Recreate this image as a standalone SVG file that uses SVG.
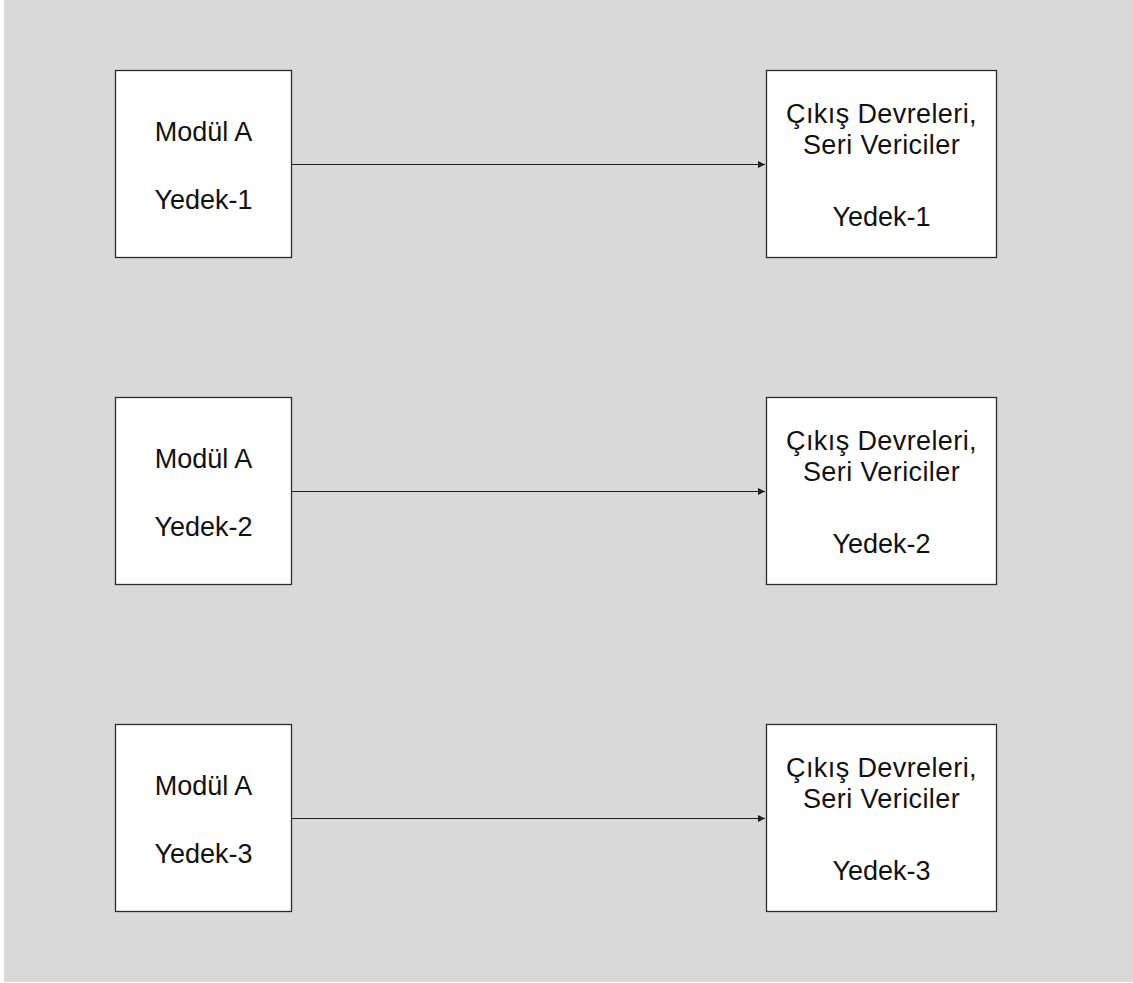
<svg xmlns="http://www.w3.org/2000/svg" width="1133" height="983" viewBox="0 0 1133 983">
  <defs>
    <style>
      .box { fill: #ffffff; stroke: #2b2b2b; stroke-width: 1.3; }
      .lbl { font-family: "Liberation Sans", Arial, sans-serif; font-size: 27px; fill: #111111; text-anchor: middle; }
      .wide { letter-spacing: 0.4px; }
      .link { stroke: #1f1f1f; stroke-width: 1.2; fill: none; marker-end: url(#head); }
    </style>
    <marker id="head" viewBox="0 0 10 10" refX="10" refY="5" markerWidth="8" markerHeight="7" markerUnits="userSpaceOnUse" orient="auto">
      <path d="M0,0 L10,5 L0,10 z" fill="#1f1f1f"/>
    </marker>
  </defs>

  <rect x="0" y="0" width="1133" height="983" fill="#ffffff"/>
  <rect x="4" y="0" width="1129" height="982" fill="#d9d9d9"/>

  <!-- connectors -->
  <g id="connectors">
    <line class="link" x1="292" y1="164.5" x2="765" y2="164.5"/>
    <line class="link" x1="292" y1="491.5" x2="765" y2="491.5"/>
    <line class="link" x1="292" y1="818.5" x2="765" y2="818.5"/>
  </g>

  <!-- row 1 -->
  <g id="modul-a-1">
    <rect class="box" x="115.5" y="70.5" width="176" height="187"/>
    <text class="lbl" x="203.5" y="141">Modül A</text>
    <text class="lbl" x="203.5" y="209">Yedek-1</text>
  </g>
  <g id="cikis-1">
    <rect class="box" x="766.5" y="70.5" width="230" height="187"/>
    <text class="lbl wide" x="881.5" y="123">Çıkış Devreleri,</text>
    <text class="lbl wide" x="881.5" y="153.5">Seri Vericiler</text>
    <text class="lbl" x="881.5" y="226">Yedek-1</text>
  </g>

  <!-- row 2 -->
  <g id="modul-a-2">
    <rect class="box" x="115.5" y="397.5" width="176" height="187"/>
    <text class="lbl" x="203.5" y="468">Modül A</text>
    <text class="lbl" x="203.5" y="536">Yedek-2</text>
  </g>
  <g id="cikis-2">
    <rect class="box" x="766.5" y="397.5" width="230" height="187"/>
    <text class="lbl wide" x="881.5" y="450">Çıkış Devreleri,</text>
    <text class="lbl wide" x="881.5" y="480.5">Seri Vericiler</text>
    <text class="lbl" x="881.5" y="553">Yedek-2</text>
  </g>

  <!-- row 3 -->
  <g id="modul-a-3">
    <rect class="box" x="115.5" y="724.5" width="176" height="187"/>
    <text class="lbl" x="203.5" y="795">Modül A</text>
    <text class="lbl" x="203.5" y="863">Yedek-3</text>
  </g>
  <g id="cikis-3">
    <rect class="box" x="766.5" y="724.5" width="230" height="187"/>
    <text class="lbl wide" x="881.5" y="777">Çıkış Devreleri,</text>
    <text class="lbl wide" x="881.5" y="807.5">Seri Vericiler</text>
    <text class="lbl" x="881.5" y="880">Yedek-3</text>
  </g>
</svg>
